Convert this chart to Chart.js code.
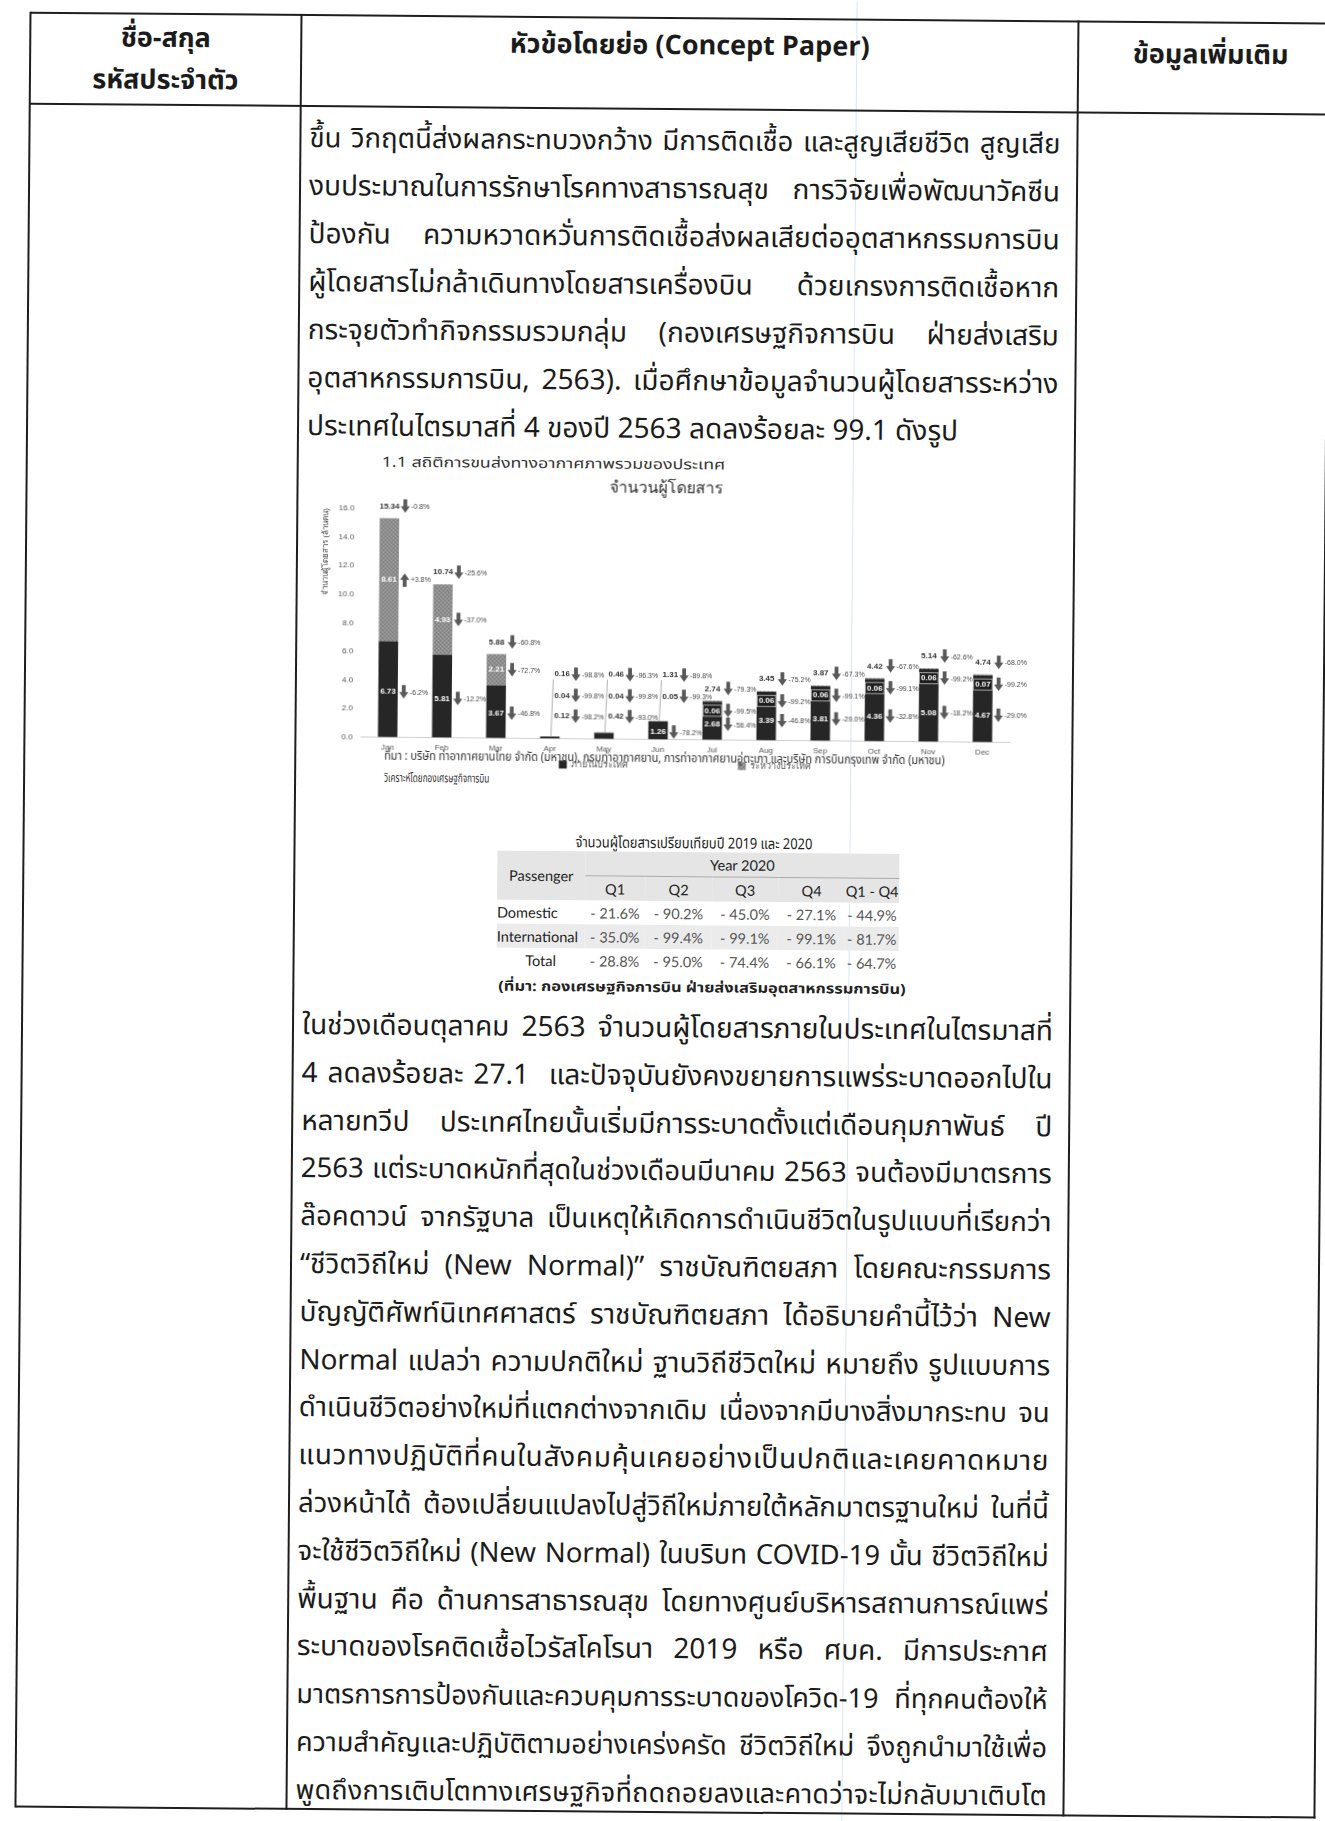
<!DOCTYPE html>
<html lang="th">
<head>
<meta charset="utf-8">
<script src="https://cdn.jsdelivr.net/npm/chart.js@4.4.1/dist/chart.umd.min.js"></script>
<style>
  html, body { margin: 0; background: #fff; overflow: hidden; }
  #page {
    position: relative; width: 1325px; height: 1821px;
    transform: rotate(0.48deg); transform-origin: 50% 50%;
    font-family: "Noto Sans Thai", "Noto Sans Thai UI", "Leelawadee UI", Tahoma, "Noto Sans", "DejaVu Sans", sans-serif;
    color: #1b1b1b;
  }
  .rule { position: absolute; background: #1e1e1e; }
  .hd { position: absolute; font-weight: bold; font-size: 27px; line-height: 42px; text-align: center; white-space: nowrap; }
  .para { position: absolute; left: 303px; width: 751px; font-size: 28px; }
  .para div { white-space: nowrap; text-align: justify; text-align-last: justify; }
  .para div.end { text-align-last: left; }
  .para span { white-space: nowrap; }
  .abs { position: absolute; white-space: nowrap; line-height: 20px; }
  .fit { display: inline-block; transform-origin: 0 50%; }
  #chartBox { position: absolute; left: 300px; top: 470px; z-index: 1; }
  #source { z-index: 2; font-size: 12px; color: #333; }
  #qt {
    position: absolute; left: 497px; top: 852px; width: 402px;
    border-collapse: collapse; font-family: Lato, "Open Sans", sans-serif; font-size: 14.5px; color: #222;
  }
  #qt td { padding: 0; height: 24px; text-align: center; white-space: nowrap; }
  #qt tr.h td { background: #e5e5e5; }
  #qt tr.shade td { background: #ebebeb; }
  #qt td.val { color: #555; }
  #qt td.yr { border-bottom: 1px solid #aaa; }
  #qt td.rl { text-align: left; }
  #scanline { position: absolute; left: 849px; top: 0; width: 1px; height: 1821px; background: rgba(140, 185, 220, 0.35); }
</style>
</head>
<body>
<div id="page">
  <div id="scanline"></div>

  <!-- table frame -->
  <div class="rule" style="left:23px; top:17px; width:1300px; height:2px;"></div>
  <div class="rule" style="left:23px; top:108px; width:1300px; height:2px;"></div>
  <div class="rule" style="left:23px; top:1811px; width:1300px; height:2px;"></div>
  <div class="rule" style="left:22px; top:17px; width:2px; height:1796px;"></div>
  <div class="rule" style="left:293px; top:17px; width:2px; height:1796px;"></div>
  <div class="rule" style="left:1070px; top:17px; width:2px; height:1796px;"></div>
  <div class="rule" style="left:1321px; top:17px; width:2px; height:1796px;"></div>

  <div class="hd" style="left:23px; width:271px; top:22px;">ชื่อ-สกุล<br>รหัสประจำตัว</div>
  <div class="hd" style="left:294px; width:777px; top:25px;">หัวข้อโดยย่อ (Concept Paper)</div>
  <div class="hd" style="left:1078px; width:251px; top:30px;">ข้อมูลเพิ่มเติม</div>

  <div class="para" style="top:118px; line-height:48px;">
    <div>ขึ้น วิกฤตนี้ส่งผลกระทบวงกว้าง มีการติดเชื้อ และสูญเสียชีวิต สูญเสีย</div>
    <div>งบประมาณในการรักษาโรคทางสาธารณสุข การวิจัยเพื่อพัฒนาวัคซีน</div>
    <div>ป้องกัน ความหวาดหวั่นการติดเชื้อส่งผลเสียต่ออุตสาหกรรมการบิน</div>
    <div>ผู้โดยสารไม่กล้าเดินทางโดยสารเครื่องบิน ด้วยเกรงการติดเชื้อหาก</div>
    <div>กระจุยตัวทำกิจกรรมรวมกลุ่ม (กองเศรษฐกิจการบิน ฝ่ายส่งเสริม</div>
    <div>อุตสาหกรรมการบิน, 2563). เมื่อศึกษาข้อมูลจำนวนผู้โดยสารระหว่าง</div>
    <div class="end">ประเทศในไตรมาสที่ 4 ของปี 2563 ลดลงร้อยละ 99.1 ดังรูป</div>
  </div>

  <div class="abs" style="left:378px; top:455px; font-size:14px; color:#333;"><span class="fit" data-w="344">1.1 สถิติการขนส่งทางอากาศภาพรวมของประเทศ</span></div>

  <div id="chartBox"><canvas id="passengerChart" width="760" height="312"></canvas></div>

  <div id="source" class="abs" style="left:383px; top:748px;"><span class="fit" data-w="560">ที่มา : บริษัท ท่าอากาศยานไทย จำกัด (มหาชน), กรมท่าอากาศยาน, การท่าอากาศยานอู่ตะเภา และบริษัท การบินกรุงเทพ จำกัด (มหาชน)</span></div>
  <div class="abs" style="left:383px; top:770px; font-size:12px; color:#333;"><span class="fit" data-w="105">วิเคราะห์โดยกองเศรษฐกิจการบิน</span></div>

  <div class="abs" style="left:575px; top:834px; font-size:15px; color:#222;"><span class="fit" data-w="237">จำนวนผู้โดยสารเปรียบเทียบปี 2019 และ 2020</span></div>

  <table id="qt"></table>

  <div class="abs" style="left:499px; top:978px; font-size:14px; font-weight:bold; color:#222;"><span class="fit" data-w="407">(ที่มา: กองเศรษฐกิจการบิน ฝ่ายส่งเสริมอุตสาหกรรมการบิน)</span></div>

  <div class="para" style="top:1005px; line-height:47.8px;">
    <div>ในช่วงเดือนตุลาคม 2563 จำนวนผู้โดยสารภายในประเทศในไตรมาสที่</div>
    <div>4 ลดลงร้อยละ 27.1&nbsp; และปัจจุบันยังคงขยายการแพร่ระบาดออกไปใน</div>
    <div>หลายทวีป ประเทศไทยนั้นเริ่มมีการระบาดตั้งแต่เดือนกุมภาพันธ์ ปี</div>
    <div>2563 แต่ระบาดหนักที่สุดในช่วงเดือนมีนาคม 2563 จนต้องมีมาตรการ</div>
    <div>ล๊อคดาวน์ จากรัฐบาล เป็นเหตุให้เกิดการดำเนินชีวิตในรูปแบบที่เรียกว่า</div>
    <div>“ชีวิตวิถีใหม่ (New Normal)” ราชบัณฑิตยสภา โดยคณะกรรมการ</div>
    <div>บัญญัติศัพท์นิเทศศาสตร์ ราชบัณฑิตยสภา ได้อธิบายคำนี้ไว้ว่า New</div>
    <div>Normal แปลว่า ความปกติใหม่ ฐานวิถีชีวิตใหม่ หมายถึง รูปแบบการ</div>
    <div>ดำเนินชีวิตอย่างใหม่ที่แตกต่างจากเดิม เนื่องจากมีบางสิ่งมากระทบ จน</div>
    <div>แนวทางปฏิบัติที่คนในสังคมคุ้นเคยอย่างเป็นปกติและเคยคาดหมาย</div>
    <div>ล่วงหน้าได้ ต้องเปลี่ยนแปลงไปสู่วิถีใหม่ภายใต้หลักมาตรฐานใหม่ ในที่นี้</div>
    <div>จะใช้ชีวิตวิถีใหม่ (New Normal) ในบริบท COVID-19 นั้น ชีวิตวิถีใหม่</div>
    <div>พื้นฐาน คือ ด้านการสาธารณสุข โดยทางศูนย์บริหารสถานการณ์แพร่</div>
    <div>ระบาดของโรคติดเชื้อไวรัสโคโรนา 2019 หรือ ศบค. มีการประกาศ</div>
    <div>มาตรการการป้องกันและควบคุมการระบาดของโควิด-19 ที่ทุกคนต้องให้</div>
    <div>ความสำคัญและปฏิบัติตามอย่างเคร่งครัด ชีวิตวิถีใหม่ จึงถูกนำมาใช้เพื่อ</div>
    <div>พูดถึงการเติบโตทางเศรษฐกิจที่ถดถอยลงและคาดว่าจะไม่กลับมาเติบโต</div>
  </div>
</div>

<script>
const months = ["Jan", "Feb", "Mar", "Apr", "May", "Jun", "Jul", "Aug", "Sep", "Oct", "Nov", "Dec"];
const domestic = [6.73, 5.81, 3.67, 0.12, 0.42, 1.26, 2.68, 3.39, 3.81, 4.36, 5.08, 4.67];
const international = [8.61, 4.93, 2.21, 0.04, 0.04, 0.05, 0.06, 0.06, 0.06, 0.06, 0.06, 0.07];
const totals = [15.34, 10.74, 5.88, 0.16, 0.46, 1.31, 2.74, 3.45, 3.87, 4.42, 5.14, 4.74];

// change vs. same month of the previous year
const totalChange = ["-0.8%", "-25.6%", "-60.8%", "-98.8%", "-96.3%", "-89.8%", "-79.3%", "-75.2%", "-67.3%", "-67.6%", "-62.6%", "-68.0%"];
const intlChange = ["+3.8%", "-37.0%", "-72.7%", "-99.8%", "-99.8%", "-99.3%", "-99.5%", "-99.2%", "-99.1%", "-99.1%", "-99.2%", "-99.2%"];
const domChange = ["-6.2%", "-12.2%", "-46.8%", "-98.2%", "-93.0%", "-78.2%", "-56.4%", "-46.8%", "-29.0%", "-32.8%", "-18.2%", "-29.0%"];

const yMax = 16;
const yStep = 2;

// quarterly table
const quarters = ["Q1", "Q2", "Q3", "Q4", "Q1 - Q4"];
const passengerGroups = ["Domestic", "International", "Total"];
const domesticQ = ["- 21.6%", "- 90.2%", "- 45.0%", "- 27.1%", "- 44.9%"];
const internationalQ = ["- 35.0%", "- 99.4%", "- 99.1%", "- 99.1%", "- 81.7%"];
const totalQ = ["- 28.8%", "- 95.0%", "- 74.4%", "- 66.1%", "- 64.7%"];

const labelFont = '"Liberation Sans Narrow", "Liberation Sans", Arial, sans-serif';

function buildTable() {
  const t = document.getElementById("qt");
  const widths = [88, 60, 67, 66, 67, 54];
  let html = "<colgroup>" + widths.map((w) => `<col style="width:${w}px">`).join("") + "</colgroup>";
  html += `<tr class="h"><td rowspan="2">Passenger</td><td colspan="5" class="yr">Year 2020</td></tr>`;
  html += `<tr class="h">` + quarters.map((q) => `<td>${q}</td>`).join("") + `</tr>`;
  [domesticQ, internationalQ, totalQ].forEach((row, r) => {
    const cls = r === 1 ? ' class="shade"' : "";
    const first = r === 2 ? `<td>${passengerGroups[r]}</td>` : `<td class="rl">${passengerGroups[r]}</td>`;
    html += `<tr${cls}>${first}` + row.map((v) => `<td class="val">${v}</td>`).join("") + `</tr>`;
  });
  t.innerHTML = html;
}

function fitText() {
  document.querySelectorAll(".fit").forEach((el) => {
    const target = parseFloat(el.dataset.w);
    const natural = el.offsetWidth;
    if (natural > 0) el.style.transform = `scaleX(${target / natural})`;
  });

  // justify each line mostly with letter spacing, like distributed Thai text
  const seg = typeof Intl.Segmenter === "function" ? new Intl.Segmenter("th", { granularity: "grapheme" }) : null;
  document.querySelectorAll(".para div").forEach((line) => {
    const text = line.textContent;
    line.innerHTML = "";
    const span = document.createElement("span");
    span.textContent = text;
    line.appendChild(span);
    const target = line.clientWidth;
    let size = 28;
    while (span.offsetWidth > target && size > 18) {
      size -= 0.5;
      line.style.fontSize = size + "px";
    }
    if (!line.classList.contains("end")) {
      const n = seg ? [...seg.segment(text)].length : text.length;
      const extra = target - span.offsetWidth;
      if (extra > 0 && n > 0) {
        span.style.letterSpacing = Math.min(extra / n, 1.6) + "px";
      }
    }
    line.textContent = text;
    line.style.letterSpacing = span.style.letterSpacing;
  });
}

function intlPattern(ctx) {
  const c = document.createElement("canvas");
  c.width = 4;
  c.height = 4;
  const g = c.getContext("2d");
  g.fillStyle = "#8e8e8e";
  g.fillRect(0, 0, 4, 4);
  g.fillStyle = "#a8a8a8";
  g.fillRect(0, 0, 1, 1);
  g.fillRect(2, 2, 1, 1);
  g.fillStyle = "#7a7a7a";
  g.fillRect(2, 0, 1, 1);
  g.fillRect(0, 2, 1, 1);
  return ctx.createPattern(c, "repeat");
}

function drawArrow(ctx, x, y, up) {
  ctx.save();
  ctx.translate(x, y);
  if (up) ctx.scale(1, -1);
  ctx.fillStyle = "#595959";
  ctx.beginPath();
  ctx.moveTo(-1.9, -7);
  ctx.lineTo(1.9, -7);
  ctx.lineTo(1.9, 0);
  ctx.lineTo(4.6, 0);
  ctx.lineTo(0, 6.5);
  ctx.lineTo(-4.6, 0);
  ctx.lineTo(-1.9, 0);
  ctx.closePath();
  ctx.fill();
  ctx.restore();
}

// value labels with arrows and % change, in the style of the original chart
const barLabels = {
  id: "barLabels",
  afterDatasetsDraw(chart, args, opts) {
    const { ctx } = chart;
    const y = chart.scales.y;
    const bars = chart.getDatasetMeta(0).data;
    const zero = y.getPixelForValue(0);

    ctx.save();
    ctx.textBaseline = "middle";

    bars.forEach((bar, i) => {
      const cx = bar.x;
      const right = cx + bar.width / 2;
      const top = y.getPixelForValue(totals[i]);
      const small = zero - top < opts.smallBarPx;
      const rows = [];

      if (small) {
        rows.push({ text: totals[i].toFixed(2), pct: totalChange[i], y: y.getPixelForValue(opts.callout.total), callout: true });
      } else {
        rows.push({ text: totals[i].toFixed(2), pct: totalChange[i], y: top - opts.gap });
      }

      const intPx = y.getPixelForValue(domestic[i]) - top;
      const intInside = intPx >= opts.insidePx;
      if (intInside) {
        rows.push({ text: international[i].toFixed(2), pct: intlChange[i], y: y.getPixelForValue(domestic[i] + international[i] / 2), inside: true });
      } else if (small) {
        rows.push({ text: international[i].toFixed(2), pct: intlChange[i], y: y.getPixelForValue(opts.callout.intl), callout: true });
      } else {
        rows.push({ text: international[i].toFixed(2), pct: intlChange[i], y: top + opts.boxOffset, boxed: true });
      }

      const domPx = zero - y.getPixelForValue(domestic[i]);
      if (domPx >= opts.insidePx) {
        const frac = intInside ? 0.47 : 0.4;
        rows.push({ text: domestic[i].toFixed(2), pct: domChange[i], y: y.getPixelForValue(domestic[i] * frac), inside: true });
      } else {
        rows.push({ text: domestic[i].toFixed(2), pct: domChange[i], y: y.getPixelForValue(opts.callout.dom), callout: true });
      }

      if (small) {
        ctx.strokeStyle = "#9a9a9a";
        ctx.lineWidth = 0.8;
        ctx.beginPath();
        ctx.moveTo(cx + 1, top);
        ctx.lineTo(cx + 3, rows[0].y + 5);
        ctx.stroke();
      }

      rows.forEach((r) => {
        ctx.font = `bold 8px ${labelFont}`;
        const w = ctx.measureText(r.text).width;
        let tx, arrowX;
        if (r.callout) {
          ctx.textAlign = "left";
          tx = cx + 4;
          arrowX = tx + w + 6;
        } else {
          ctx.textAlign = "center";
          tx = cx;
          arrowX = right + 6;
        }
        if (r.boxed) {
          ctx.fillStyle = "#1e1e1e";
          ctx.fillRect(cx - w / 2 - 1.5, r.y - 5.5, w + 3, 11);
          ctx.strokeStyle = "#c8c8c8";
          ctx.lineWidth = 0.8;
          ctx.strokeRect(cx - w / 2 - 1.5, r.y - 5.5, w + 3, 11);
        }
        ctx.fillStyle = r.inside || r.boxed ? "#ffffff" : "#333333";
        ctx.fillText(r.text, tx, r.y);
        drawArrow(ctx, arrowX, r.y, r.pct.startsWith("+"));
        ctx.font = `7px ${labelFont}`;
        ctx.textAlign = "left";
        ctx.fillStyle = "#444444";
        ctx.fillText(r.pct, arrowX + 6, r.y + 0.5);
      });
    });
    ctx.restore();
  },
};

// legend row tucked right under the month labels (it sits under the source line in the original)
const lowLegend = {
  id: "lowLegend",
  afterDraw(chart, args, opts) {
    const { ctx, chartArea } = chart;
    const sets = chart.data.datasets;
    ctx.save();
    ctx.font = `${opts.size}px ${labelFont}`;
    ctx.textBaseline = "middle";
    ctx.textAlign = "left";
    const widths = sets.map((d) => opts.box + 4 + ctx.measureText(d.label).width);
    const total = widths.reduce((a, b) => a + b, 0) + opts.gap * (sets.length - 1);
    let x = (chartArea.left + chartArea.right) / 2 - total / 2;
    const yMid = chartArea.bottom + opts.offset;
    sets.forEach((d, i) => {
      ctx.fillStyle = d.backgroundColor;
      ctx.fillRect(x, yMid - opts.box / 2, opts.box, opts.box);
      ctx.fillStyle = "#555";
      ctx.fillText(d.label, x + opts.box + 4, yMid);
      x += widths[i] + opts.gap;
    });
    ctx.restore();
  },
};

function drawChart() {
  const ctx = document.getElementById("passengerChart").getContext("2d");

  new Chart(ctx, {
    type: "bar",
    data: {
      labels: months,
      datasets: [
        {
          label: "ภายในประเทศ",
          data: domestic,
          backgroundColor: "#262626",
          barPercentage: 0.36,
          categoryPercentage: 1,
        },
        {
          label: "ระหว่างประเทศ",
          data: international,
          backgroundColor: intlPattern(ctx),
          barPercentage: 0.36,
          categoryPercentage: 1,
        },
      ],
    },
    options: {
      responsive: false,
      animation: false,
      layout: { padding: { left: 18, right: 52, top: 0, bottom: 21 } },
      scales: {
        x: {
          stacked: true,
          grid: { display: false, drawTicks: false },
          border: { color: "#cfcfcf" },
          ticks: { color: "#555", font: { size: 8, family: labelFont }, padding: 6 },
        },
        y: {
          stacked: true,
          min: 0,
          max: yMax,
          grid: { display: false, drawTicks: false },
          border: { display: false },
          ticks: {
            stepSize: yStep,
            padding: 8,
            color: "#555",
            font: { size: 8, family: labelFont },
            callback: (v) => Number(v).toFixed(1),
          },
          title: {
            display: true,
            text: "จำนวนผู้โดยสาร (ล้านคน)",
            align: "end",
            color: "#444",
            font: { size: 8 },
            padding: 0,
          },
        },
      },
      plugins: {
        title: {
          display: true,
          text: "จำนวนผู้โดยสาร",
          color: "#333",
          font: { size: 16, weight: "normal" },
          padding: { top: 9, bottom: 13 },
        },
        legend: { display: false },
        tooltip: { enabled: false },
        lowLegend: { size: 9, box: 8, gap: 110, offset: 26 },
        barLabels: {
          smallBarPx: 20,
          insidePx: 14,
          gap: 12,
          boxOffset: 10,
          callout: { total: 4.5, intl: 3.0, dom: 1.55 },
        },
      },
    },
    plugins: [barLabels, lowLegend],
  });
}

buildTable();
fitText();
drawChart();
</script>
</body>
</html>
